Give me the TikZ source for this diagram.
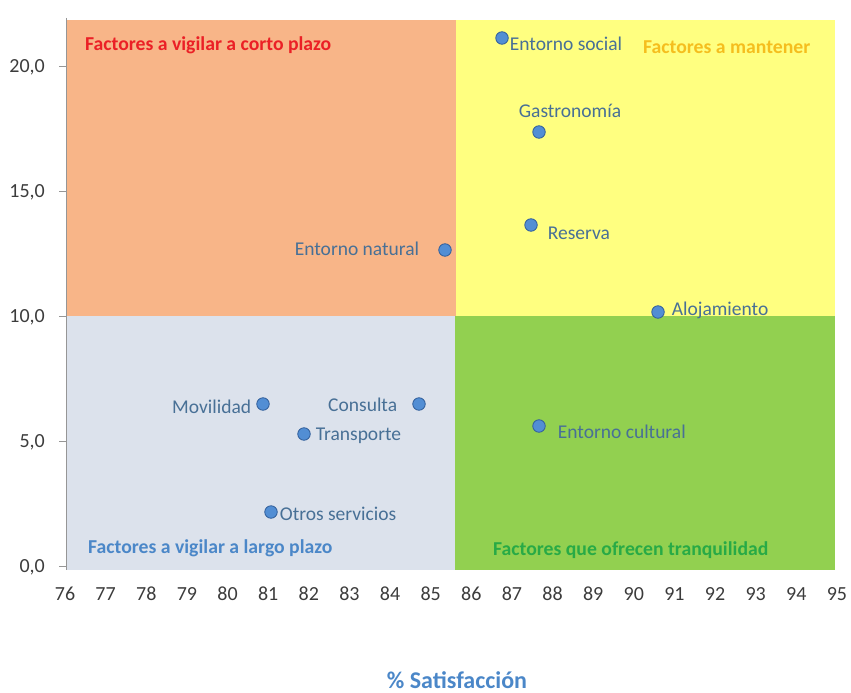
\documentclass[tikz,border=0pt]{standalone}
\usepackage{fontspec}
\setmainfont{Carlito}
\usetikzlibrary{positioning}

\definecolor{cortoFill}{RGB}{248,181,136}
\definecolor{mantFill}{RGB}{255,255,128}
\definecolor{largoFill}{RGB}{220,226,236}
\definecolor{tranqFill}{RGB}{146,208,80}
\definecolor{cortoText}{RGB}{235,32,38}
\definecolor{mantText}{RGB}{245,190,30}
\definecolor{largoText}{RGB}{75,135,200}
\definecolor{tranqText}{RGB}{40,170,70}
\definecolor{dotblue}{RGB}{82,142,212}
\definecolor{dotedge}{RGB}{50,95,155}
\definecolor{lblblue}{RGB}{72,112,150}
\definecolor{axisgray}{RGB}{150,150,150}
\definecolor{tickgray}{RGB}{60,60,60}

\begin{document}
\begin{tikzpicture}[x=1pt,y=-1pt,font=\fontsize{19.5}{23}\selectfont,
    dot/.style={circle,fill=dotblue,draw=dotedge,line width=0.8pt,inner sep=0pt,minimum size=12.5pt},
    lbl/.style={text=lblblue,inner sep=0pt},
    tick/.style={text=tickgray,font=\fontsize{20}{24}\selectfont},
    zone/.style={font=\fontsize{19.7}{23}\selectfont\bfseries,inner sep=0pt,anchor=west}]

    \useasboundingbox (0,0) rectangle (851,693);

    % quadrants
    \fill[cortoFill] (66,20) rectangle (456,316);
    \fill[mantFill] (456,20) rectangle (835,316);
    \fill[largoFill] (66,316) rectangle (455,570);
    \fill[tranqFill] (455,316) rectangle (835,570);

    \node[zone,text=cortoText] (corto) at (85,45) {Factores a vigilar a corto plazo};
    \node[zone,text=mantText] (mant) at (643,47) {Factores a mantener};
    \node[zone,text=largoText] (largo) at (88,548) {Factores a vigilar a largo plazo};
    \node[zone,text=tranqText] (tranq) at (493,550) {Factores que ofrecen tranquilidad};

    % axes
    \draw[axisgray,line width=1pt] (66,18) -- (66,570);
    \foreach \v in {0,5,...,20} {
        \draw[axisgray] (59,{566-25*\v}) -- (66,{566-25*\v});
        \node[tick,anchor=east,inner sep=0pt] (ytick\v) at (45,{567-25*\v}) {\v,0};
    }
    \foreach \k in {76,...,95}
        \node[tick] (xtick\k) at ({65+40.63*(\k-76)},594) {\k};

    \node[font=\fontsize{24}{28}\selectfont\bfseries,text=largoText,anchor=base,inner sep=0pt] (xtitle) at (457,688) {\% Satisfacción};

    % points
    \node[dot] (soc) at (502,38) {};
    \node[dot] (gas) at (539,132) {};
    \node[dot] (res) at (531,225) {};
    \node[dot] (nat) at (445,250) {};
    \node[dot] (alo) at (658,312) {};
    \node[dot] (mov) at (263,404) {};
    \node[dot] (con) at (419,404) {};
    \node[dot] (tra) at (304,434) {};
    \node[dot] (cul) at (539,426) {};
    \node[dot] (otr) at (271,512) {};

    \node[lbl] (socL) [right=1pt of soc,yshift=-6pt] {Entorno social};
    \node[lbl] (gasL) [above=8pt of gas,xshift=31pt] {Gastronomía};
    \node[lbl] (resL) [right=10pt of res,yshift=-8pt] {Reserva};
    \node[lbl] (natL) [left=19pt of nat,yshift=1pt] {Entorno natural};
    \node[lbl] (aloL) [right=7pt of alo,yshift=2pt] {Alojamiento};
    \node[lbl] (movL) [left=5pt of mov,yshift=-3pt] {Movilidad};
    \node[lbl] (conL) [left=15pt of con,yshift=-1pt] {Consulta};
    \node[lbl] (traL) [right=5pt of tra,yshift=-2pt] {Transporte};
    \node[lbl] (culL) [right=12pt of cul,yshift=-6pt] {Entorno cultural};
    \node[lbl] (otrL) [right=2pt of otr,yshift=-2pt] {Otros servicios};

\end{tikzpicture}
\end{document}
